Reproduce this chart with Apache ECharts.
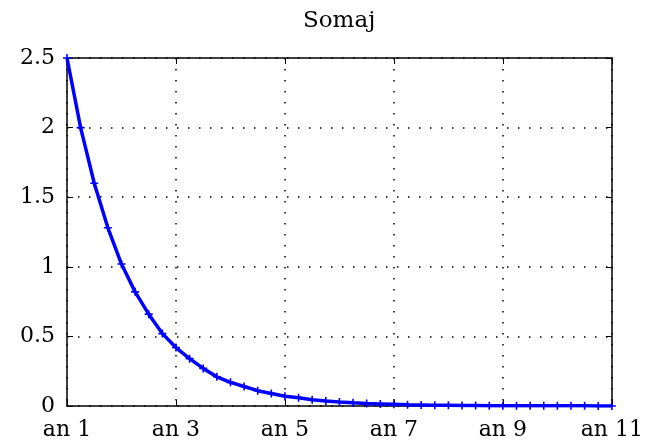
<!DOCTYPE html>
<html>
<head>
<meta charset="utf-8">
<script src="https://cdn.jsdelivr.net/npm/echarts@6/dist/echarts.min.js"></script>
<style>
html,body{margin:0;padding:0;background:#fff;}
#chart{width:646px;height:442px;}
</style>
</head>
<body>
<div id="chart"></div>
<script>
// ani (pozitie pe axa x) si valorile somajului
var ani = [1, 1.25, 1.5, 1.75, 2, 2.25, 2.5, 2.75, 3, 3.25,
	3.5, 3.75, 4, 4.25, 4.5, 4.75, 5, 5.25, 5.5, 5.75,
	6, 6.25, 6.5, 6.75, 7, 7.25, 7.5, 7.75, 8, 8.25,
	8.5, 8.75, 9, 9.25, 9.5, 9.75, 10, 10.25, 10.5, 10.75, 11];
var somaj = [2.5, 2.0, 1.6, 1.28, 1.02, 0.82, 0.66, 0.52, 0.42, 0.34,
	0.27, 0.21, 0.17, 0.14, 0.11, 0.09, 0.07, 0.06, 0.045, 0.036,
	0.029, 0.023, 0.018, 0.015, 0.012, 0.009, 0.008, 0.006, 0.005, 0.004,
	0.003, 0.002, 0.002, 0.002, 0.001, 0.001, 0.001, 0.001, 0.001, 0, 0];
var titlu = 'Somaj';

var myChart = echarts.init(document.getElementById('chart'));
var font = 'DejaVu Serif';
var data = [];
for (var i = 0; i < ani.length; i++) {
	data.push([ani[i], somaj[i]]);
}
// semnul '+' pentru marcaje
var plus = 'path://M4,0L6,0L6,4L10,4L10,6L6,6L6,10L4,10L4,6L0,6L0,4L4,4Z';

var axaX = {
	type: 'value', min: 1, max: 11, interval: 2,
	axisLine: {show: true, onZero: false, lineStyle: {color: '#000', width: 1.5}},
	axisTick: {show: true, inside: true, length: 6, lineStyle: {color: '#000'}},
	splitLine: {show: false}
};
var axaY = {
	type: 'value', min: 0, max: 2.5, interval: 0.5,
	axisLine: {show: true, lineStyle: {color: '#000', width: 1.5}},
	axisTick: {show: true, inside: true, length: 6, lineStyle: {color: '#000'}},
	splitLine: {show: false}
};

var option = {
	backgroundColor: '#fff',
	animation: false,
	title: {
		text: titlu, left: 298, top: 5,
		textStyle: {fontFamily: font, fontSize: 23, fontWeight: 'normal', color: '#000'}
	},
	grid: {left: 67, right: 34, top: 58, bottom: 36},
	xAxis: [
		Object.assign({}, axaX, {
			position: 'bottom',
			splitLine: {show: true, lineStyle: {color: '#000', type: [1.5, 9.5], width: 1.5}},
			axisLabel: {
				color: '#000', fontFamily: font, fontSize: 22, margin: 13,
				formatter: function (v) { return 'an ' + v; }
			}
		}),
		Object.assign({}, axaX, {position: 'top', axisLabel: {show: false}})
	],
	yAxis: [
		Object.assign({}, axaY, {
			position: 'left',
			splitLine: {show: true, lineStyle: {color: '#000', type: [1.5, 9.5], width: 1.5}},
			axisLabel: {color: '#000', fontFamily: font, fontSize: 22, margin: 12}
		}),
		Object.assign({}, axaY, {position: 'right', axisLabel: {show: false}})
	],
	series: [{
		type: 'line',
		data: data,
		symbol: plus,
		symbolSize: 8,
		showAllSymbol: true,
		itemStyle: {color: '#0000ff'},
		lineStyle: {color: '#0000ff', width: 3.5}
	}]
};
myChart.setOption(option);
</script>
</body>
</html>
